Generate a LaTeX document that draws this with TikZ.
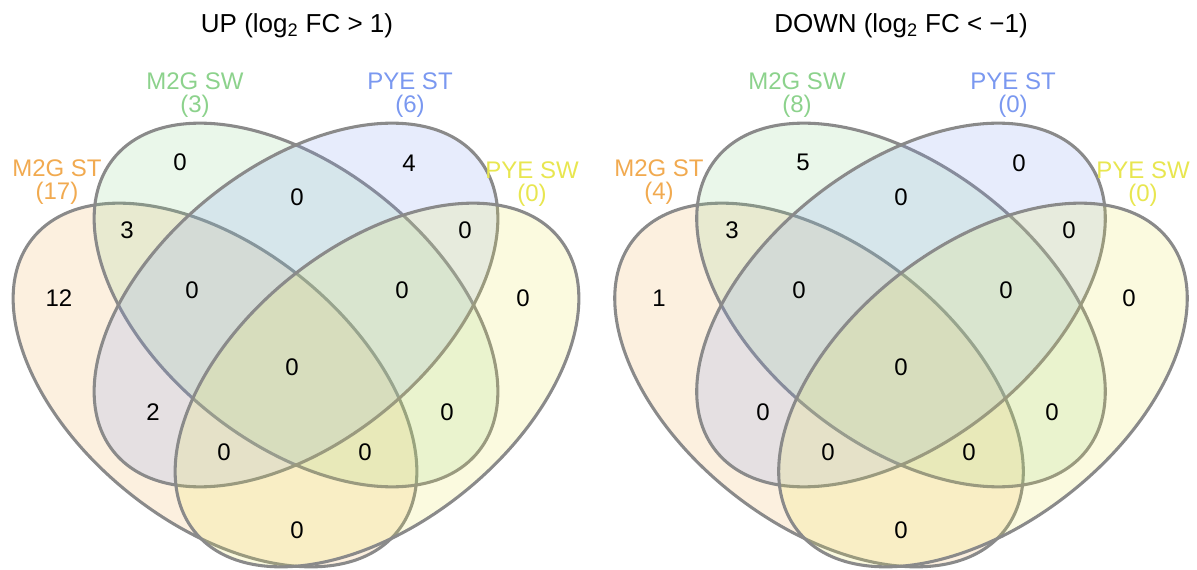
\documentclass[tikz,border=0pt]{standalone}
\usepackage{fontspec}
\setmainfont{Liberation Sans}

\definecolor{cOr}{RGB}{241,170,80}
\definecolor{cGr}{RGB}{140,210,140}
\definecolor{cBl}{RGB}{122,152,240}
\definecolor{cYe}{RGB}{232,230,80}
\definecolor{cLine}{RGB}{138,138,138}

\tikzset{
  setfill/.style={fill=#1, fill opacity=0.18},
  setline/.style={draw=cLine, line width=2.3pt},
  count/.style={font=\fontsize{18}{20}\selectfont, text=black, inner sep=0pt},
  setlabel/.style={font=\fontsize{18}{17.3}\selectfont, text=#1, align=center, inner sep=0pt},
  ttl/.style={font=\fontsize{19.5}{22}\selectfont, inner sep=0pt},
}

% one set of the four-set diagram: centre x, centre y, tilt, colour
\newcommand\vennset[4]{%
  \fill[setfill=#4, shift={(#1,#2)}, rotate=#3] (0,0) ellipse [x radius=175.5pt, y radius=103.5pt];
  \draw[setline, shift={(#1,#2)}, rotate=#3] (0,0) ellipse [x radius=175.5pt, y radius=103.5pt];
}

% the four sets of one panel
\newcommand\vennpanel{%
  \vennset{215}{385}{-38.8}{cOr}
  \vennset{296}{305}{-38.8}{cGr}
  \vennset{296}{305}{38.8}{cBl}
  \vennset{377}{385}{38.8}{cYe}
}

\begin{document}
\begin{tikzpicture}[x=0.75pt, y=-0.75pt]
\useasboundingbox (0,0) rectangle (1197,570);

% ---------------- up-regulated ----------------
\vennpanel
\node[ttl] (upT) at (297,26) {UP (log\textsubscript{2} FC > 1)};
\node[setlabel=cOr] (upLo) at (57,182) {M2G ST\\(17)};
\node[setlabel=cGr] (upLg) at (195,95) {M2G SW\\(3)};
\node[setlabel=cBl] (upLb) at (410,95) {PYE ST\\(6)};
\node[setlabel=cYe] (upLy) at (532,184) {PYE SW\\(0)};
\node[count] (up1)  at (180,162) {0};
\node[count] (up2)  at (409,163) {4};
\node[count] (up3)  at (297,197) {0};
\node[count] (up4)  at (127,230) {3};
\node[count] (up5)  at (465,230) {0};
\node[count] (up6)  at (59,298)  {12};
\node[count] (up7)  at (192,290) {0};
\node[count] (up8)  at (402,290) {0};
\node[count] (up9)  at (523,298) {0};
\node[count] (up10) at (292,367) {0};
\node[count] (up11) at (153,412) {2};
\node[count] (up12) at (447,412) {0};
\node[count] (up13) at (224,452) {0};
\node[count] (up14) at (365,452) {0};
\node[count] (up15) at (297,530) {0};

% ---------------- down-regulated ----------------
\begin{scope}[shift={(901,0)}, xscale=1.012, shift={(-296,0)}]
  \vennpanel
\end{scope}
\node[ttl] (dnT) at (901,26) {DOWN (log\textsubscript{2} FC < −1)};
\node[setlabel=cOr] (dnLo) at (659,182) {M2G ST\\(4)};
\node[setlabel=cGr] (dnLg) at (797,95) {M2G SW\\(8)};
\node[setlabel=cBl] (dnLb) at (1013,95) {PYE ST\\(0)};
\node[setlabel=cYe] (dnLy) at (1143,184) {PYE SW\\(0)};
\node[count] (dn1)  at (803,162) {5};
\node[count] (dn2)  at (1019,163) {0};
\node[count] (dn3)  at (901,197) {0};
\node[count] (dn4)  at (732,230) {3};
\node[count] (dn5)  at (1069,230) {0};
\node[count] (dn6)  at (659,298) {1};
\node[count] (dn7)  at (799,290) {0};
\node[count] (dn8)  at (1006,290) {0};
\node[count] (dn9)  at (1129,298) {0};
\node[count] (dn10) at (901,367) {0};
\node[count] (dn11) at (763,412) {0};
\node[count] (dn12) at (1052,412) {0};
\node[count] (dn13) at (828,452) {0};
\node[count] (dn14) at (969,452) {0};
\node[count] (dn15) at (901,530) {0};
\end{tikzpicture}
\end{document}
